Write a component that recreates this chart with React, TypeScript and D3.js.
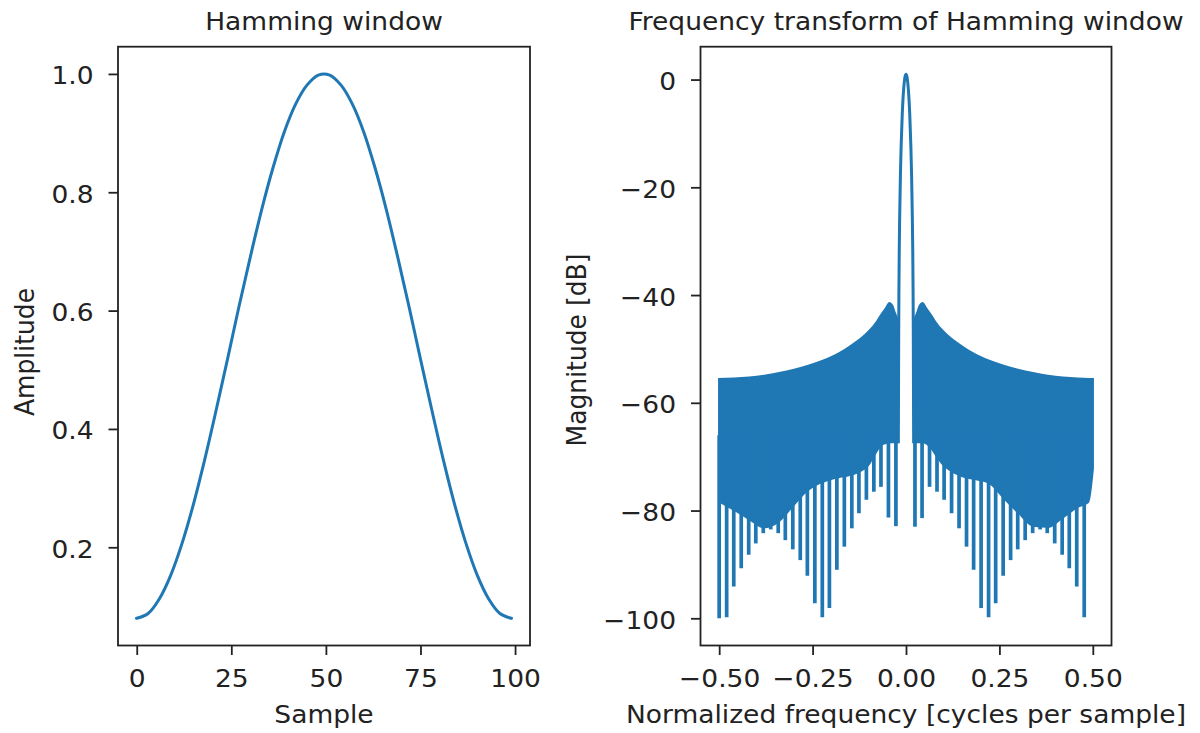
import React, { useEffect, useRef } from "react";
import * as d3 from "d3";

const WIDTH = 1200;
const HEIGHT = 733;
const BLUE = "#1f77b4";
const INK = "#222";
const FONT = "DejaVu Sans";
const FS = 25;
const SX = 1.06; // the picture is a bit wider than tall

// Hamming window, read every third sample
const windowSamples = [0, 3, 6, 9, 12, 15, 18, 21, 24, 27, 30, 33, 36, 39, 42, 45, 48, 51, 54, 57, 60, 63, 66, 69, 72, 75, 78, 81, 84, 87, 90, 93, 96, 99];
const windowAmplitude = [0.080, 0.088, 0.113, 0.153, 0.207, 0.273, 0.349, 0.432, 0.518, 0.606, 0.690, 0.770, 0.841, 0.902, 0.949, 0.981, 0.998, 0.998, 0.981, 0.949, 0.902, 0.841, 0.770, 0.690, 0.606, 0.518, 0.432, 0.349, 0.273, 0.207, 0.153, 0.113, 0.088, 0.080];

const windowXTicks = [0, 25, 50, 75, 100];
const windowYTicks = [0.2, 0.4, 0.6, 0.8, 1.0];

// Frequency response
const freqXTicks = [-0.5, -0.25, 0, 0.25, 0.5];
const freqYTicks = [-100, -80, -60, -40, -20, 0];

const mainLobeFreq = [-0.0205, -0.0195, -0.019, -0.018, -0.017, -0.015, -0.013, -0.010, -0.0075, -0.005, -0.0025, 0, 0.0025, 0.005, 0.0075, 0.010, 0.013, 0.015, 0.017, 0.018, 0.019, 0.0195, 0.0205];
const mainLobeDb = [-67.5, -46.9, -39.7, -31.4, -25.8, -17.9, -12.3, -6.4, -3.0, -0.75, 0.57, 1.0, 0.57, -0.75, -3.0, -6.4, -12.3, -17.9, -25.8, -31.4, -39.7, -46.9, -67.5];

// sidelobe band: outer edges of the densely oscillating line
const bandLeftFreq = [-0.503, -0.46, -0.42, -0.38, -0.34, -0.30, -0.26, -0.22, -0.18, -0.15, -0.12, -0.10, -0.08, -0.065, -0.055, -0.045, -0.035, -0.027, -0.02];
const bandLeftTop = [-55.4, -55.3, -55.1, -54.8, -54.3, -53.7, -52.9, -51.9, -50.6, -49.3, -47.8, -46.5, -44.8, -43.2, -42.2, -41.3, -41.8, -43.3, -44.5];
const bandLeftBottom = [-78.4, -80.1, -81.8, -83.3, -82.2, -79.2, -76.3, -74.8, -74.0, -73.6, -72.8, -71.8, -69.5, -68.0, -67.7, -67.5, -67.5, -67.5, -67.5];

const bandRightFreq = [0.02, 0.027, 0.035, 0.045, 0.055, 0.065, 0.08, 0.10, 0.12, 0.15, 0.18, 0.22, 0.26, 0.30, 0.34, 0.38, 0.42, 0.46, 0.49, 0.503];
const bandRightTop = [-44.5, -43.3, -41.8, -41.3, -42.2, -43.2, -44.8, -46.5, -47.8, -49.3, -50.6, -51.9, -52.9, -53.7, -54.3, -54.8, -55.1, -55.3, -55.4, -55.4];
const bandRightBottom = [-67.5, -67.5, -67.5, -67.5, -67.8, -68.5, -70.0, -71.8, -72.8, -73.8, -74.3, -75.0, -77.8, -80.6, -83.0, -83.2, -81.5, -79.5, -78.5, -72.2];

// deep nulls that show as spikes below the band
const nullLeftFreq = [-0.500, -0.480, -0.461, -0.441, -0.421, -0.402, -0.382, -0.362, -0.342, -0.323, -0.303, -0.283, -0.264, -0.244, -0.224, -0.205, -0.185, -0.165, -0.145, -0.126, -0.106, -0.086, -0.067, -0.047, -0.027];
const nullLeftDb = [-100, -99.8, -94.1, -90.7, -88.2, -86.1, -84.2, -83.5, -84.2, -85.5, -87.2, -89.2, -92.1, -97.2, -99.8, -98.1, -91.0, -86.7, -83.3, -80.5, -78.0, -76.5, -75.6, -81.3, -82.9];
const nullRightFreq = [0.024, 0.043, 0.063, 0.083, 0.102, 0.122, 0.142, 0.162, 0.181, 0.201, 0.221, 0.240, 0.260, 0.280, 0.299, 0.319, 0.339, 0.359, 0.378, 0.398, 0.418, 0.437, 0.457, 0.477];
const nullRightDb = [-83.0, -81.4, -75.6, -76.5, -78.0, -80.5, -83.3, -86.7, -91.0, -98.1, -99.8, -97.2, -92.1, -89.2, -87.2, -85.5, -84.2, -83.5, -84.2, -86.1, -88.2, -90.7, -94.1, -99.8];

type Box = { left: number; right: number; top: number; bottom: number };

const addText = (parent: any, x: number, y: number, str: string, rotate = false) => {
  parent.append("text")
    .attr("transform", `translate(${x},${y}) scale(${SX},1)${rotate ? " rotate(-90)" : ""}`)
    .attr("text-anchor", "middle")
    .attr("font-family", FONT)
    .attr("font-size", FS)
    .attr("fill", INK)
    .text(str);
};

const drawAxes = (svg: any, box: Box, x: any, y: any, xTicks: number[], yTicks: number[], xFmt: any, yFmt: any) => {
  const gx = svg.append("g")
    .attr("transform", `translate(0,${box.bottom})`)
    .call(d3.axisBottom(x).tickValues(xTicks).tickSize(9.5).tickPadding(14).tickFormat(xFmt));
  gx.select(".domain").remove();
  gx.selectAll("line").attr("stroke", INK).attr("stroke-width", 1.8);
  gx.selectAll("text")
    .attr("font-family", FONT)
    .attr("font-size", FS)
    .attr("fill", INK)
    .attr("transform", `scale(${SX},1)`);

  const gy = svg.append("g")
    .attr("transform", `translate(${box.left},0)`)
    .call(d3.axisLeft(y).tickValues(yTicks).tickSize(9.5).tickPadding(15).tickFormat(yFmt));
  gy.select(".domain").remove();
  gy.selectAll("line").attr("stroke", INK).attr("stroke-width", 1.8);
  gy.selectAll("text")
    .attr("font-family", FONT)
    .attr("font-size", FS)
    .attr("fill", INK)
    .attr("x", -24.5 / SX)
    .attr("dy", "0.4em")
    .attr("transform", `scale(${SX},1)`);

  svg.append("rect")
    .attr("x", box.left)
    .attr("y", box.top)
    .attr("width", box.right - box.left)
    .attr("height", box.bottom - box.top)
    .attr("fill", "none")
    .attr("stroke", INK)
    .attr("stroke-width", 1.8);
};

export default function App() {
  const svgRef = useRef<SVGSVGElement>(null);

  useEffect(() => {
    const svg = d3.select(svgRef.current);
    svg.selectAll("*").remove();

    svg.append("rect").attr("width", WIDTH).attr("height", HEIGHT).attr("fill", "#fff");

    // ---- Left: Hamming window
    const L: Box = { left: 118, right: 530, top: 46.7, bottom: 645.5 };
    const xW = d3.scaleLinear().domain([-4.95, 103.95]).range([L.left, L.right]);
    const yW = d3.scaleLinear().domain([0.034, 1.046]).range([L.bottom, L.top]);

    const windowData = windowSamples.map((s, i) => ({ s, a: windowAmplitude[i] }));
    const windowLine = d3.line<any>()
      .x(d => xW(d.s))
      .y(d => yW(d.a))
      .curve(d3.curveCatmullRom.alpha(0.5));

    svg.append("path")
      .datum(windowData)
      .attr("d", windowLine)
      .attr("fill", "none")
      .attr("stroke", BLUE)
      .attr("stroke-width", 3)
      .attr("stroke-linecap", "square");

    drawAxes(svg, L, xW, yW, windowXTicks, windowYTicks, d3.format("d"), d3.format(".1f"));
    addText(svg, (L.left + L.right) / 2, 30, "Hamming window");
    addText(svg, (L.left + L.right) / 2, 723, "Sample");
    addText(svg, 34, 352, "Amplitude", true);

    // ---- Right: frequency transform
    const R: Box = { left: 700.5, right: 1111.5, top: 46.7, bottom: 645.5 };
    const xF = d3.scaleLinear().domain([-0.55, 0.55]).range([R.left, R.right]);
    const yF = d3.scaleLinear().domain([-105.05, 6.1]).range([R.bottom, R.top]);

    const band = d3.area<any>()
      .x(d => xF(d.f))
      .y0(d => yF(d.lo))
      .y1(d => yF(d.hi))
      .curve(d3.curveMonotoneX);

    const bands = [
      bandLeftFreq.map((f, i) => ({ f, hi: bandLeftTop[i], lo: bandLeftBottom[i] })),
      bandRightFreq.map((f, i) => ({ f, hi: bandRightTop[i], lo: bandRightBottom[i] })),
    ];
    svg.selectAll(".band")
      .data(bands)
      .join("path")
      .attr("class", "band")
      .attr("d", band)
      .attr("fill", BLUE);

    const nulls = [
      ...nullLeftFreq.map((f, i) => ({ f, db: nullLeftDb[i] })),
      ...nullRightFreq.map((f, i) => ({ f, db: nullRightDb[i] })),
    ];
    svg.selectAll(".null")
      .data(nulls)
      .join("line")
      .attr("class", "null")
      .attr("x1", d => xF(d.f))
      .attr("x2", d => xF(d.f))
      .attr("y1", yF(-66))
      .attr("y2", d => yF(d.db))
      .attr("stroke", BLUE)
      .attr("stroke-width", 3.7);

    const lobeData = mainLobeFreq.map((f, i) => ({ f, db: mainLobeDb[i] }));
    const lobeLine = d3.line<any>()
      .x(d => xF(d.f))
      .y(d => yF(d.db))
      .curve(d3.curveMonotoneX);
    svg.append("path")
      .datum(lobeData)
      .attr("d", lobeLine)
      .attr("fill", "none")
      .attr("stroke", BLUE)
      .attr("stroke-width", 3)
      .attr("stroke-linejoin", "round");

    drawAxes(svg, R, xF, yF, freqXTicks, freqYTicks, d3.format(".2f"), d3.format("d"));
    addText(svg, (R.left + R.right) / 2, 30, "Frequency transform of Hamming window");
    addText(svg, (R.left + R.right) / 2, 723, "Normalized frequency [cycles per sample]");
    addText(svg, 586, 350, "Magnitude [dB]", true);
  }, []);

  return (
    <svg
      ref={svgRef}
      width={WIDTH}
      height={HEIGHT}
      style={{ position: "absolute", left: 0, top: 0, display: "block" }}
    />
  );
}
